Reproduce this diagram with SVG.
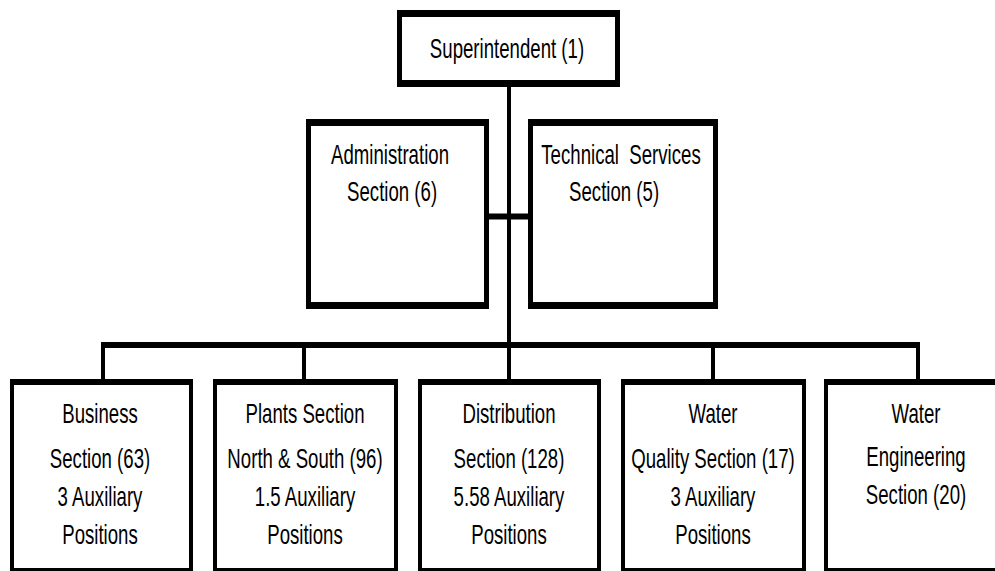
<svg xmlns="http://www.w3.org/2000/svg" width="995" height="571" viewBox="0 0 995 571">
<style>
.outer{fill:#000}
.inner{fill:#fff}
.conn{stroke:#000;fill:none}
.v{stroke-width:4}
.h{stroke-width:6}
text{font-family:"Liberation Sans",Arial,sans-serif;font-size:27px;fill:#000;text-anchor:middle}
</style>
<rect width="995" height="571" fill="#fff"/>
<g id="connectors">
<line class="conn v" x1="509" y1="85" x2="509" y2="381"/>
<line class="conn h" x1="487" y1="216.5" x2="530" y2="216.5"/>
<line class="conn h" x1="101" y1="345" x2="920" y2="345"/>
<line class="conn v" x1="103" y1="345" x2="103" y2="381"/>
<line class="conn v" x1="304" y1="345" x2="304" y2="381"/>
<line class="conn v" x1="713" y1="345" x2="713" y2="381"/>
<line class="conn v" x1="918" y1="345" x2="918" y2="381"/>
</g>
<g id="superintendent">
<rect class="outer" x="397" y="10" width="223" height="77"/>
<rect class="inner" x="402" y="17" width="213" height="63"/>
<g transform="translate(507 0) scale(0.69 1)"><text x="0" y="58">Superintendent (1)</text></g>
</g>
<g id="administration">
<rect class="outer" x="306" y="119" width="183" height="190"/>
<rect class="inner" x="311" y="126" width="173" height="176"/>
<g transform="translate(390 0) scale(0.69 1)"><text x="0" y="164">Administration</text><text x="3" y="201">Section (6)</text></g>
</g>
<g id="technical">
<rect class="outer" x="528" y="119" width="190" height="190"/>
<rect class="inner" x="533" y="126" width="180" height="176"/>
<g transform="translate(621 0) scale(0.69 1)"><text x="0" y="164" xml:space="preserve">Technical  Services</text><text x="-10" y="201">Section (5)</text></g>
</g>
<g id="business">
<rect class="outer" x="10" y="379" width="183" height="192"/>
<rect class="inner" x="14" y="385" width="175" height="183"/>
<g transform="translate(100 0) scale(0.69 1)"><text x="0" y="423">Business</text><text x="0" y="468">Section (63)</text><text x="0" y="506">3 Auxiliary</text><text x="0" y="544">Positions</text></g>
</g>
<g id="plants">
<rect class="outer" x="213" y="379" width="185" height="192"/>
<rect class="inner" x="217" y="385" width="177" height="183"/>
<g transform="translate(305 0) scale(0.69 1)"><text x="0" y="423">Plants Section</text><text x="0" y="468">North &amp; South (96)</text><text x="0" y="506">1.5 Auxiliary</text><text x="0" y="544">Positions</text></g>
</g>
<g id="distribution">
<rect class="outer" x="418" y="379" width="183" height="192"/>
<rect class="inner" x="422" y="385" width="175" height="183"/>
<g transform="translate(509 0) scale(0.69 1)"><text x="0" y="423">Distribution</text><text x="0" y="468">Section (128)</text><text x="0" y="506">5.58 Auxiliary</text><text x="0" y="544">Positions</text></g>
</g>
<g id="water-quality">
<rect class="outer" x="621" y="379" width="185" height="192"/>
<rect class="inner" x="625" y="385" width="177" height="183"/>
<g transform="translate(713 0) scale(0.69 1)"><text x="0" y="423">Water</text><text x="0" y="468">Quality Section (17)</text><text x="0" y="506">3 Auxiliary</text><text x="0" y="544">Positions</text></g>
</g>
<g id="water-engineering">
<rect class="outer" x="824" y="379" width="180" height="192"/>
<rect class="inner" x="828" y="385" width="180" height="183"/>
<g transform="translate(916 0) scale(0.69 1)"><text x="0" y="423">Water</text><text x="0" y="466">Engineering</text><text x="0" y="504">Section (20)</text></g>
</g>
</svg>
